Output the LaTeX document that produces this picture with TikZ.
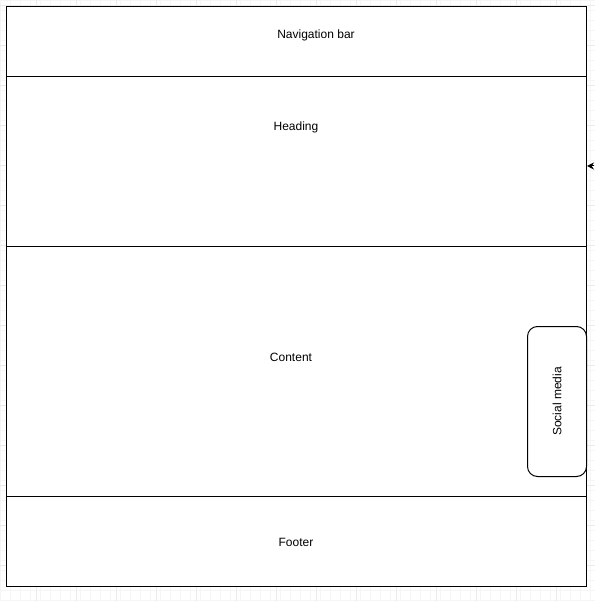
\documentclass[tikz,border=0pt]{standalone}
\usepackage{fontspec}
\setmainfont{Liberation Sans}
\usetikzlibrary{arrows.meta}
\begin{document}
\begin{tikzpicture}[x=1pt,y=-1pt,
  region/.style={draw=black,line width=1pt,rectangle,inner sep=0pt,anchor=north west,fill=white},
  lbl/.style={inner sep=0pt,font=\fontsize{12}{14}\selectfont},
  sidebox/.style={draw=black,line width=1pt,rounded corners=10pt,inner sep=0pt,anchor=north west,fill=white,minimum width=59pt,minimum height=150pt}]
\useasboundingbox (0,0) rectangle (595,601);
\fill[white] (0,0) rectangle (595,601);
% faint grid
\draw[black!4,line width=0.6pt,step=10pt] (0,0) grid (595,601);
\foreach \g in {36,76,...,595} \draw[black!8,line width=0.6pt] (\g,0) -- (\g,601);
\foreach \g in {5,45,...,601} \draw[black!8,line width=0.6pt] (0,\g) -- (595,\g);
% regions
\node[region,minimum width=580pt,minimum height=70pt] (nav) at (6,6) {};
\node[region,minimum width=580pt,minimum height=170pt] (head) at (6,76) {};
\node[region,minimum width=580pt,minimum height=250pt] (cont) at (6,246) {};
\node[region,minimum width=580pt,minimum height=90pt] (foot) at (6,496) {};
\node[sidebox] (social) at (527,326) {};
% labels
\node[lbl] (navl) at (316,35.5) {Navigation bar};
\node[lbl] (headl) at (296,127.5) {Heading};
\node[lbl] (contl) at (291,357) {Content};
\node[lbl] (footl) at (296,542) {Footer};
\node[lbl,rotate=90] (sociall) at (social.center) {Social media};
% small arrow head
\coordinate (arrS) at (594,166);
\coordinate (arrE) at (587,166);
\draw[line width=1pt,-{Stealth[length=7pt,width=7pt]}] (arrS) -- (arrE);
\end{tikzpicture}
\end{document}
